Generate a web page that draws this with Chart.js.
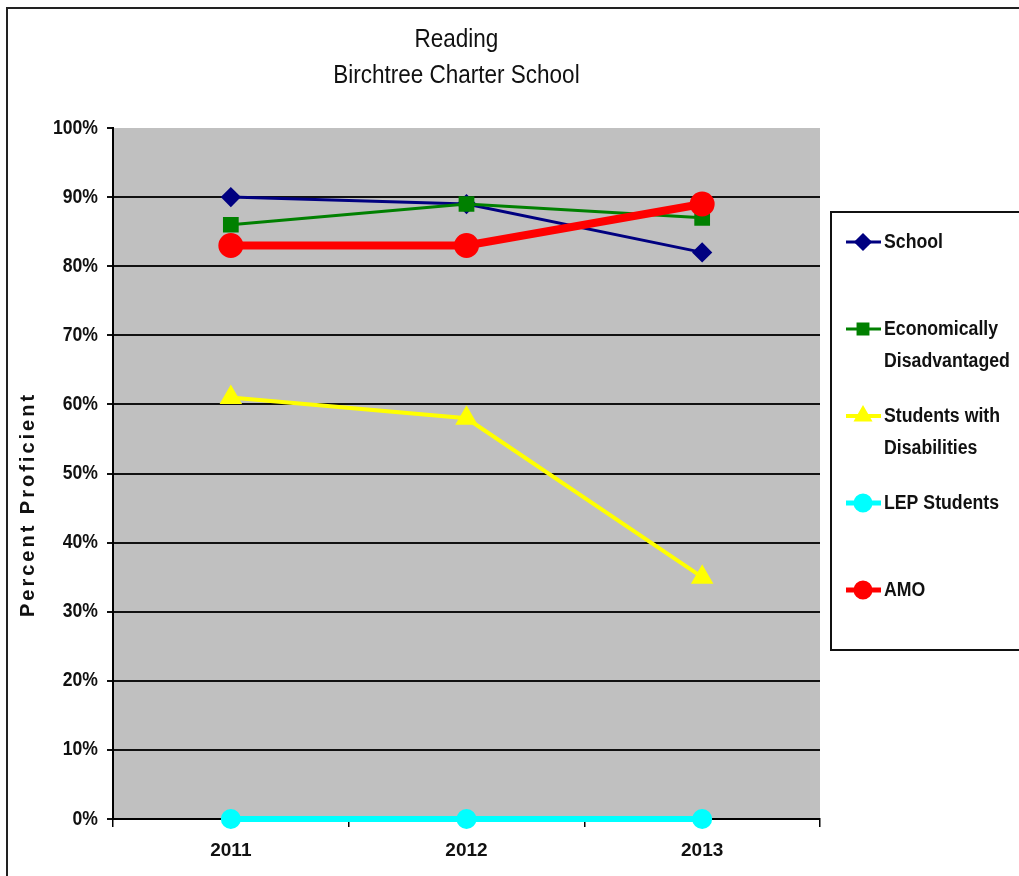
<!DOCTYPE html>
<html>
<head>
<meta charset="utf-8">
<script src="https://cdn.jsdelivr.net/npm/chart.js@4/dist/chart.umd.min.js"></script>
<style>
  html, body { margin: 0; padding: 0; background: #fff; }
  #wrap { width: 1019px; height: 876px; position: relative; }
</style>
</head>
<body>
<div id="wrap"><canvas id="c" width="1019" height="876"></canvas></div>
<script>
// ---- data ----
const years = ['2011', '2012', '2013'];
const schoolVals = [90, 89, 82];
const econVals = [86, 89, 87];
const swdVals = [61, 58, 35];
const lepVals = [0, 0, 0];
const amoVals = [83, 83, 89];
const seriesNames = ['School', 'Economically Disadvantaged', 'Students with Disabilities', 'LEP Students', 'AMO'];
const legendLines = [['School'], ['Economically', 'Disadvantaged'], ['Students with', 'Disabilities'], ['LEP Students'], ['AMO']];
const titleLines = ['Reading', 'Birchtree Charter School'];
const yTickValues = [0, 10, 20, 30, 40, 50, 60, 70, 80, 90, 100];

const SANS = "'Liberation Sans', Arial, sans-serif";

const framePlugin = {
  id: 'frame',
  beforeDraw(chart) {
    const ctx = chart.ctx, a = chart.chartArea;
    ctx.save();
    ctx.fillStyle = '#ffffff';
    ctx.fillRect(0, 0, chart.width, chart.height);
    ctx.strokeStyle = '#222';
    ctx.lineWidth = 2;
    ctx.strokeRect(7, 8, chart.width + 50, chart.height + 50);
    ctx.fillStyle = '#c0c0c0';
    ctx.fillRect(a.left, a.top, a.right - a.left, a.bottom - a.top);
    ctx.restore();
  },
  afterLayout(chart) {
    const s = chart.scales.y;
    if (s && !s._wrappedTitle) {
      const orig = s.drawTitle.bind(s);
      s.drawTitle = function () {
        const ctx = chart.ctx;
        ctx.save();
        ctx.letterSpacing = '3px';
        ctx.translate(8, 31);
        orig();
        ctx.restore();
      };
      const origL = s.drawLabels.bind(s);
      s.drawLabels = function (area) {
        const ctx = chart.ctx;
        const rx = 98;
        ctx.save();
        ctx.translate(rx, 0);
        ctx.scale(0.88, 1);
        ctx.translate(-rx, 0);
        origL(area);
        ctx.restore();
      };
      s._wrappedTitle = true;
    }
    const t = chart.titleBlock;
    if (t && !t._wrapped) {
      const origT = t.draw.bind(t);
      t.draw = function () {
        const ctx = chart.ctx;
        const cx = 456;
        ctx.save();
        ctx.translate(cx, 0);
        ctx.scale(0.9, 1);
        ctx.translate(-cx - 10, 0);
        origT();
        ctx.restore();
      };
      t._wrapped = true;
    }
  }
};

const legendPlugin = {
  id: 'customLegend',
  afterDraw(chart) {
    const ctx = chart.ctx;
    ctx.save();
    ctx.strokeStyle = '#111';
    ctx.lineWidth = 2;
    ctx.strokeRect(831, 212, 260, 438);
    const startY = 242, step = 87;
    chart.data.datasets.forEach((ds, i) => {
      const y = startY + step * i;
      ctx.strokeStyle = ds.borderColor;
      ctx.lineWidth = Math.min(ds.borderWidth, 5);
      ctx.beginPath();
      ctx.moveTo(846, y);
      ctx.lineTo(881, y);
      ctx.stroke();
      ctx.fillStyle = ds.pointBackgroundColor;
      ctx.strokeStyle = ds.pointBorderColor;
      Chart.helpers.drawPoint(ctx, { pointStyle: ds.pointStyle, radius: Math.min(ds.pointRadius, 7), borderWidth: 1, rotation: 0 }, 863, y);
      ctx.fillStyle = '#111';
      ctx.font = "bold 20px " + SANS;
      ctx.textAlign = 'left';
      ctx.textBaseline = 'middle';
      legendLines[i].forEach((line, k) => {
        ctx.save();
        ctx.translate(884, y + k * 32);
        ctx.scale(0.885, 1);
        ctx.fillText(line, 0, 0);
        ctx.restore();
      });
    });
    ctx.restore();
  }
};

function mk(label, data, color, style, radius, width, order) {
  return {
    label: label,
    data: data,
    borderColor: color,
    backgroundColor: color,
    pointBackgroundColor: color,
    pointBorderColor: color,
    pointStyle: style,
    pointRadius: radius,
    pointHoverRadius: radius,
    borderWidth: width,
    tension: 0,
    clip: false,
    order: order
  };
}

new Chart(document.getElementById('c'), {
  type: 'line',
  data: {
    labels: years,
    datasets: [
      mk(seriesNames[0], schoolVals, '#000080', 'rectRot', 8, 3, 3),
      mk(seriesNames[1], econVals, '#008000', 'rect', 9, 3, 2),
      mk(seriesNames[2], swdVals, '#ffff00', 'triangle', 9, 4, 4),
      mk(seriesNames[3], lepVals, '#00ffff', 'circle', 7, 6, 1),
      mk(seriesNames[4], amoVals, '#ff0000', 'circle', 8.5, 8, 0)
    ]
  },
  options: {
    responsive: false,
    animation: false,
    devicePixelRatio: 1,
    layout: { padding: { left: 0, right: 199, top: 0, bottom: 0 } },
    plugins: {
      legend: { display: false },
      tooltip: { enabled: false },
      title: {
        display: true,
        fullSize: false,
        text: titleLines,
        color: '#111',
        font: { family: SANS, size: 25, weight: 'normal', lineHeight: 1.44 },
        padding: { top: 22, bottom: 34 }
      }
    },
    scales: {
      x: {
        offset: true,
        grid: { offset: true, drawOnChartArea: false, drawTicks: true, tickLength: 8, color: '#000', lineWidth: 1.5 },
        border: { display: true, color: '#000', width: 2 },
        ticks: { color: '#111', font: { family: SANS, size: 19, weight: 'bold' }, padding: 12, maxRotation: 0 },
        afterFit(scale) { scale.height = 57; }
      },
      y: {
        min: 0,
        max: 100,
        afterBuildTicks(scale) { scale.ticks = yTickValues.map(v => ({ value: v })); },
        grid: {
          color: ctx => (ctx.tick && ctx.tick.value === 100) ? 'rgba(0,0,0,0)' : '#111',
          tickColor: '#111',
          lineWidth: 2,
          tickLength: 6,
          drawTicks: true
        },
        border: { display: true, color: '#000', width: 2 },
        ticks: {
          color: '#111',
          font: { family: SANS, size: 20, weight: 'bold' },
          padding: 9,
          callback: v => v + '%'
        },
        title: {
          display: true,
          text: 'Percent Proficient',
          color: '#111',
          font: { family: SANS, size: 20, weight: 'bold' },
          padding: { top: 8, bottom: 0 }
        },
        afterFit(scale) { scale.width = 113; }
      }
    }
  },
  plugins: [framePlugin, legendPlugin]
});
</script>
</body>
</html>
